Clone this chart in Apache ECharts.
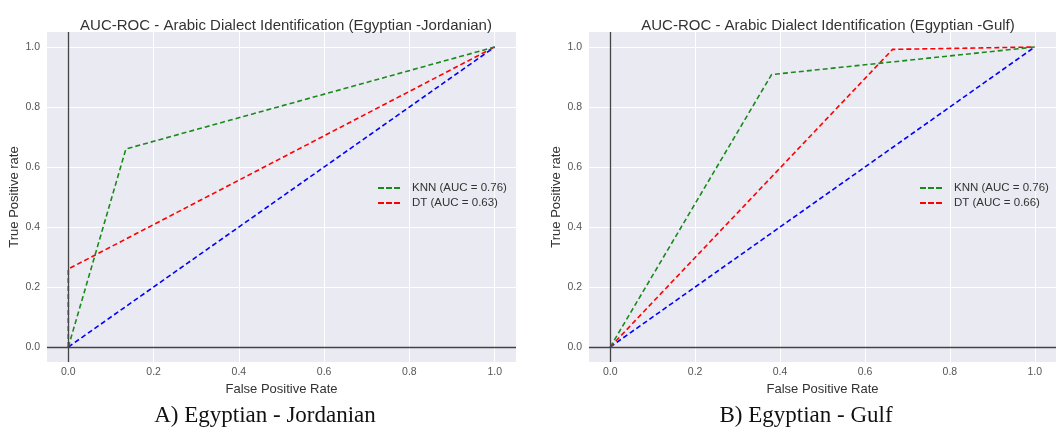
<!DOCTYPE html>
<html>
<head>
<meta charset="utf-8">
<script src="https://cdn.jsdelivr.net/npm/echarts@6/dist/echarts.min.js"></script>
<style>
  html, body { margin: 0; padding: 0; background: #fff; }
  #chart { width: 1056px; height: 428px; }
</style>
</head>
<body>
<div id="chart"></div>
<script>
const ticks = [0, 0.2, 0.4, 0.6, 0.8, 1.0]

// Egyptian - Jordanian
const jorKnnX = [0, 0.135, 1]
const jorKnnY = [0, 0.66, 1]
const jorDtX = [0, 0, 1]
const jorDtY = [0, 0.26, 1]

// Egyptian - Gulf
const gulfKnnX = [0, 0.38, 1]
const gulfKnnY = [0, 0.908, 1]
const gulfDtX = [0, 0.665, 1]
const gulfDtY = [0, 0.992, 1]

const chanceX = [0, 1]
const chanceY = [0, 1]

const titles = [
  'AUC-ROC - Arabic Dialect Identification (Egyptian -Jordanian)',
  'AUC-ROC - Arabic Dialect Identification (Egyptian -Gulf)',
]
const captions = ['A) Egyptian - Jordanian', 'B) Egyptian - Gulf']
const legendNames = [
  ['KNN (AUC = 0.76)', 'DT (AUC = 0.63)'],
  ['KNN (AUC = 0.76)', 'DT (AUC = 0.66)'],
]

const pairs = (xs, ys) => xs.map((x, i) => [x, ys[i]])

const chart = echarts.init(document.getElementById('chart'))

const grids = [
  { left: 47, top: 32, width: 469, height: 330 },
  { left: 589, top: 32, width: 471, height: 330 },
]

const axisNameStyle = { color: '#333', fontSize: 13, fontFamily: 'Liberation Sans' }
const tickStyle = {
  customValues: ticks,
  color: '#555',
  fontSize: 10.5,
  fontFamily: 'Liberation Sans',
  formatter: (v) => v.toFixed(1),
}

const makeX = (i) => ({
  type: 'value',
  gridIndex: i,
  min: -0.05,
  max: 1.05,
  name: 'False Positive Rate',
  nameLocation: 'middle',
  nameGap: 20,
  nameTextStyle: axisNameStyle,
  axisLine: { show: false },
  axisTick: { show: false, customValues: ticks },
  axisLabel: Object.assign({ margin: 5 }, tickStyle),
  splitLine: { show: true, lineStyle: { color: '#fff', width: 1 } },
})

const makeY = (i) => ({
  type: 'value',
  gridIndex: i,
  min: -0.05,
  max: 1.05,
  name: 'True Positive rate',
  nameLocation: 'middle',
  nameGap: 26,
  nameTextStyle: axisNameStyle,
  axisLine: { show: false },
  axisTick: { show: false, customValues: ticks },
  axisLabel: Object.assign({ margin: 7 }, tickStyle),
  splitLine: { show: true, lineStyle: { color: '#fff', width: 1 } },
})

const dashed = (name, color, data, i, extra) =>
  Object.assign(
    {
      name,
      type: 'line',
      xAxisIndex: i,
      yAxisIndex: i,
      data,
      symbol: 'none',
      silent: true,
      animation: false,
      lineStyle: { color, width: 1.6, type: [5, 3] },
      itemStyle: { color },
    },
    extra || {}
  )

const zeroLines = {
  symbol: 'none',
  silent: true,
  label: { show: false },
  lineStyle: { color: '#444', type: 'solid', width: 1.3 },
  data: [{ xAxis: 0 }, { yAxis: 0 }],
}

const series = []
;[
  [jorKnnX, jorKnnY, jorDtX, jorDtY],
  [gulfKnnX, gulfKnnY, gulfDtX, gulfDtY],
].forEach((d, i) => {
  series.push(
    dashed('chance' + i, '#0000ff', pairs(chanceX, chanceY), i, { markLine: zeroLines, z: 1 })
  )
  series.push(dashed(legendNames[i][0], '#1a8a1a', pairs(d[0], d[1]), i, { z: 3 }))
  series.push(dashed(legendNames[i][1], '#ff0000', pairs(d[2], d[3]), i, { z: 2 }))
})

// three short dashes as the legend key
const dashIcon = 'path://M0,0h6v2h-6z M8,0h6v2h-6z M16,0h6v2h-6z'

const makeLegend = (names, left) => ({
  data: names,
  left,
  top: 182,
  padding: 0,
  orient: 'vertical',
  itemWidth: 22,
  itemHeight: 2,
  itemGap: 3,
  icon: dashIcon,
  selectedMode: false,
  textStyle: {
    color: '#333',
    fontSize: 11.5,
    fontFamily: 'Liberation Sans',
    padding: [0, 0, 0, 7],
  },
})

const titleStyle = { fontSize: 15, fontWeight: 'normal', color: '#333', fontFamily: 'Liberation Sans' }
const captionStyle = { fontSize: 23, fontWeight: 'normal', color: '#111', fontFamily: 'Liberation Serif' }

const option = {
  animation: false,
  title: [
    { text: titles[0], left: 281, top: 13, textAlign: 'center', textStyle: titleStyle },
    { text: titles[1], left: 823, top: 13, textAlign: 'center', textStyle: titleStyle },
    { text: captions[0], left: 260, top: 399, textAlign: 'center', textStyle: captionStyle },
    { text: captions[1], left: 801, top: 399, textAlign: 'center', textStyle: captionStyle },
  ],
  legend: [makeLegend(legendNames[0], 378), makeLegend(legendNames[1], 920)],
  grid: grids.map((g) =>
    Object.assign({ show: true, backgroundColor: '#eaeaf2', borderWidth: 0 }, g)
  ),
  xAxis: [makeX(0), makeX(1)],
  yAxis: [makeY(0), makeY(1)],
  series,
}

chart.setOption(option)
</script>
</body>
</html>
